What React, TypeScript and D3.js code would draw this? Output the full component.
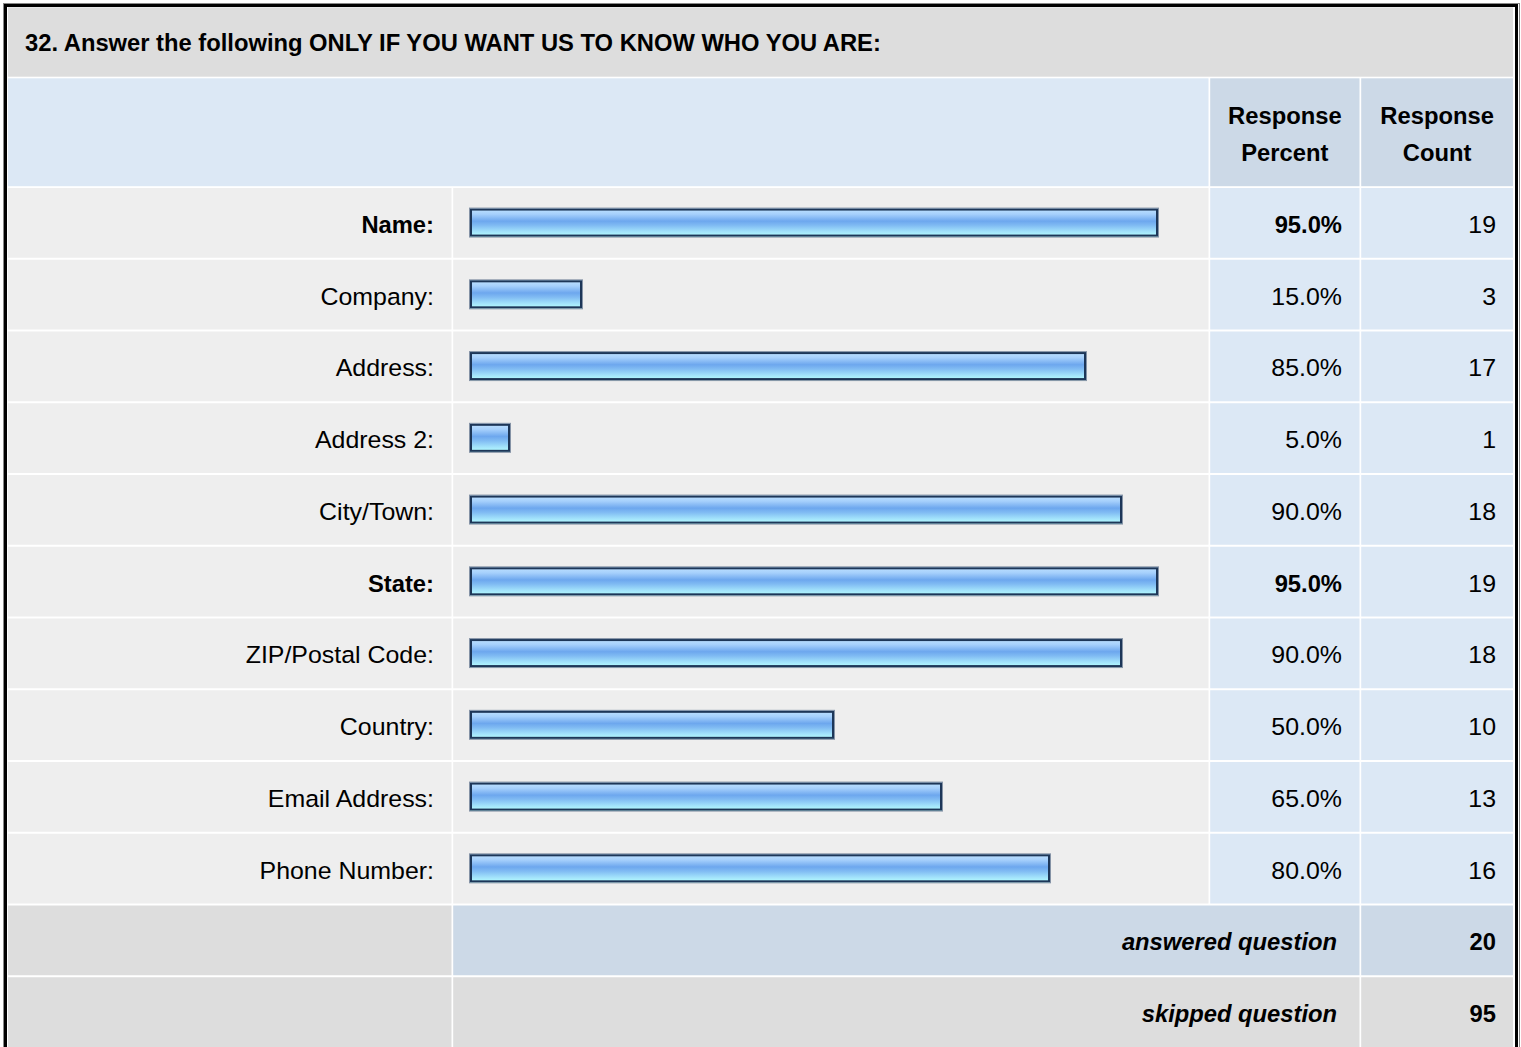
import React from "react";
import * as d3 from "d3";

const title = "32. Answer the following ONLY IF YOU WANT US TO KNOW WHO YOU ARE:";
const categories = [
  "Name:",
  "Company:",
  "Address:",
  "Address 2:",
  "City/Town:",
  "State:",
  "ZIP/Postal Code:",
  "Country:",
  "Email Address:",
  "Phone Number:",
];
const percents = [95.0, 15.0, 85.0, 5.0, 90.0, 95.0, 90.0, 50.0, 65.0, 80.0];
const counts = [19, 3, 17, 1, 18, 19, 18, 10, 13, 16];
const headerPercent = ["Response", "Percent"];
const headerCount = ["Response", "Count"];
const summaryLabels = ["answered question", "skipped question"];
const summaryValues = [20, 95];

const W = 1521;
const H = 1047;
const FONT = "'Liberation Sans', Arial, Helvetica, sans-serif";
const FS = 23.3;
const SXB = 1.02;
const SXR = 1.07;

// layout
const L = 8;
const R = 1513;
const colLabel = [L, 451.5];
const colBar = [453.2, 1208.5];
const colPct = [1210.2, 1359.5];
const colCnt = [1361.2, R];
const titleTop = 7.3;
const titleBot = 76.7;
const headTop = 78.3;
const headBot = 186.2;
const rowsTop = 188;
const pitch = 71.75;

const C_TITLE = "#dddddd";
const C_HEAD = "#dce8f5";
const C_HEAD2 = "#ccd9e7";
const C_ROW = "#eeeeee";
const C_FOOT = "#dddddd";

function T({ x, y, anchor = "start", bold = false, italic = false, children }: any) {
  const sx = bold ? SXB : SXR;
  return (
    <text
      transform={`translate(${x},${y}) scale(${sx},1)`}
      textAnchor={anchor}
      fontFamily={FONT}
      fontSize={FS}
      fontWeight={bold ? "bold" : "normal"}
      fontStyle={italic ? "italic" : "normal"}
      fill="#000"
    >
      {children}
    </text>
  );
}

export default function App() {
  const rowKeys = [...categories, ...summaryLabels];
  const y = d3
    .scaleBand<string>()
    .domain(rowKeys)
    .range([rowsTop, rowsTop + rowKeys.length * pitch - 2])
    .paddingInner(2 / pitch)
    .paddingOuter(0);
  const x = d3.scaleLinear().domain([0, 100]).range([474, 1194]);
  const barStart = 470;
  const barH = 28;
  const maxP = d3.max(percents) as number;
  const bw = y.bandwidth();
  const capOff = 8.6;
  const rowOff = 1.5;

  const rect = (x0: number, x1: number, y0: number, y1: number, fill: string, key?: any) => (
    <rect key={key} x={x0} y={y0} width={x1 - x0} height={y1 - y0} fill={fill} />
  );

  return (
    <svg
      width={W}
      height={H}
      style={{ position: "absolute", left: 0, top: 0, background: "#fff" }}
    >
      <defs>
        <linearGradient id="barGrad" x1="0" y1="0" x2="0" y2="1">
          <stop offset="0" stopColor="#bfe2ff" />
          <stop offset="0.2" stopColor="#a6d0fc" />
          <stop offset="0.45" stopColor="#6da7ee" />
          <stop offset="0.6" stopColor="#80bbf3" />
          <stop offset="0.82" stopColor="#a2e2fb" />
          <stop offset="1" stopColor="#b6ffff" />
        </linearGradient>
      </defs>

      {/* outer frame */}
      <rect x={3.5} y={3.5} width={1516} height={1060} fill="none" stroke="#888" strokeWidth={1} />
      <rect x={5.5} y={5.5} width={1511} height={1060} fill="none" stroke="#000" strokeWidth={3} />

      {/* title */}
      {rect(L, R, titleTop, titleBot, C_TITLE)}
      <T x={25} y={(titleTop + titleBot) / 2 + capOff} bold>
        {title}
      </T>

      {/* header */}
      {rect(L, colBar[1], headTop, headBot, C_HEAD)}
      {rect(colPct[0], colPct[1], headTop, headBot, C_HEAD2)}
      {rect(colCnt[0], colCnt[1], headTop, headBot, C_HEAD2)}
      {headerPercent.map((t, i) => (
        <T key={"hp" + i} x={(colPct[0] + colPct[1]) / 2} y={115 + i * 37 + capOff} anchor="middle" bold>
          {t}
        </T>
      ))}
      {headerCount.map((t, i) => (
        <T key={"hc" + i} x={(colCnt[0] + colCnt[1]) / 2} y={115 + i * 37 + capOff} anchor="middle" bold>
          {t}
        </T>
      ))}

      {/* data rows */}
      {categories.map((c, i) => {
        const y0 = y(c) as number;
        const cy = y0 + bw / 2;
        const bold = percents[i] === maxP;
        const xe = x(percents[i]);
        const by = cy - barH / 2 - 0.3;
        return (
          <g key={c}>
            {rect(colLabel[0], colLabel[1], y0, y0 + bw, C_ROW)}
            {rect(colBar[0], colBar[1], y0, y0 + bw, C_ROW)}
            {rect(colPct[0], colPct[1], y0, y0 + bw, C_HEAD)}
            {rect(colCnt[0], colCnt[1], y0, y0 + bw, C_HEAD)}
            <T x={434} y={cy + capOff + rowOff} anchor="end" bold={bold}>
              {c}
            </T>
            <rect
              x={barStart - 0.5}
              y={by - 0.5}
              width={xe - barStart + 1}
              height={barH + 1}
              fill="none"
              stroke="#8593a6"
              strokeWidth={1}
            />
            <rect x={barStart} y={by} width={xe - barStart} height={barH} fill="url(#barGrad)" />
            <rect
              x={barStart + 1}
              y={by + 1}
              width={xe - barStart - 2}
              height={barH - 2}
              fill="none"
              stroke="#1d3658"
              strokeWidth={2}
            />
            <T x={1342} y={cy + capOff + rowOff} anchor="end" bold={bold}>
              {d3.format(".1f")(percents[i]) + "%"}
            </T>
            <T x={1496} y={cy + capOff + rowOff} anchor="end">
              {String(counts[i])}
            </T>
          </g>
        );
      })}

      {/* summary rows */}
      {summaryLabels.map((s, i) => {
        const y0 = y(s) as number;
        const cy = y0 + bw / 2;
        const mid = i === 0 ? C_HEAD2 : C_FOOT;
        return (
          <g key={s}>
            {rect(colLabel[0], colLabel[1], y0, y0 + bw, C_FOOT)}
            {rect(colBar[0], colPct[1], y0, y0 + bw, mid)}
            {rect(colCnt[0], colCnt[1], y0, y0 + bw, mid)}
            <T x={1337} y={cy + capOff + rowOff} anchor="end" bold italic>
              {s}
            </T>
            <T x={1496} y={cy + capOff + rowOff} anchor="end" bold>
              {String(summaryValues[i])}
            </T>
          </g>
        );
      })}
    </svg>
  );
}
